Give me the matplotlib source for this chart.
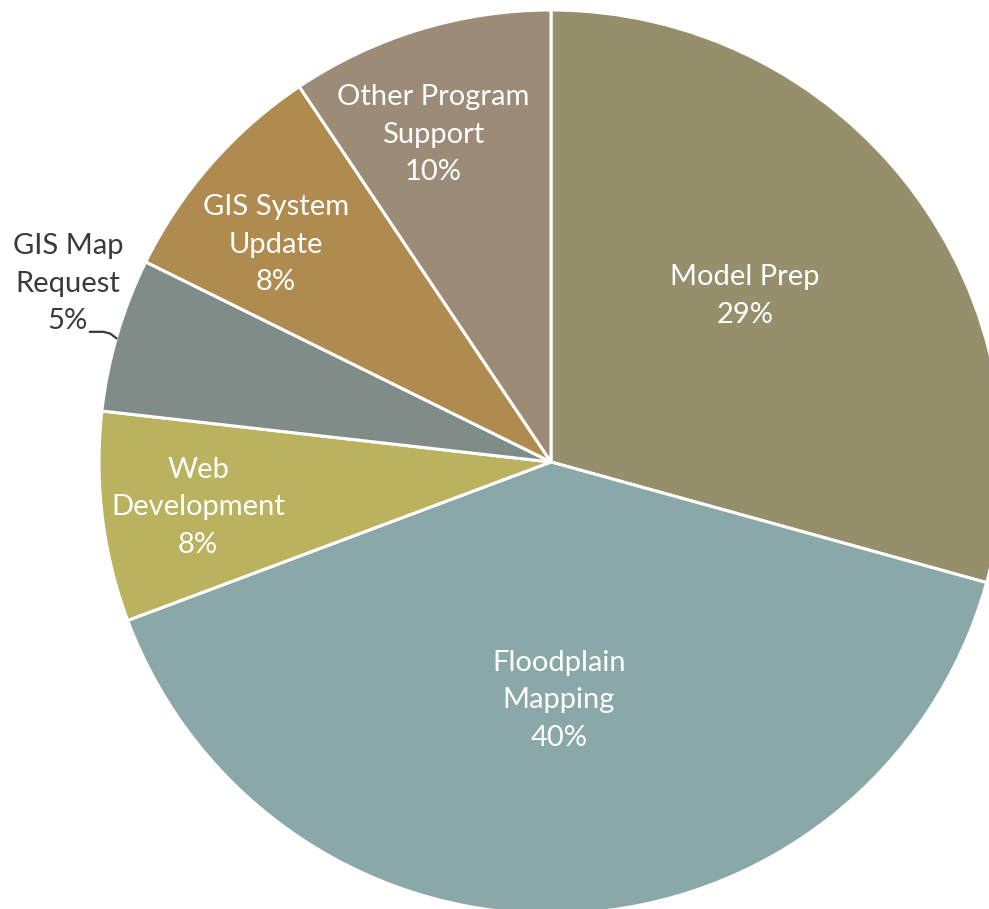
import numpy as np
import matplotlib.pyplot as plt

# slices, clockwise from 12 o'clock
labels = ['Model Prep', 'Floodplain\nMapping', 'Web\nDevelopment',
          'GIS Map\nRequest', 'GIS System\nUpdate', 'Other Program\nSupport']
values = [29.3, 40.0, 7.5, 5.5, 8.3, 9.4]
pct_labels = ['29%', '40%', '8%', '5%', '8%', '10%']
colors = ['#958F6B', '#8AA8A7', '#BAB25E', '#7F8C87', '#B08B50', '#9B8B77']

# label placement: distance from centre (fraction of radius), angle nudge (deg)
label_r = [0.565, 0.527, 0.787, None, 0.775, 0.77]
label_dt = [3.3, -0.6, 0.3, 0, 2.9, 2.9]

plt.rcParams['font.family'] = ['Lato', 'DejaVu Sans']

fig = plt.figure(figsize=(9.89, 9.09), dpi=100)
ax = fig.add_axes([0, 0, 1, 1])

wedges, _ = ax.pie(values, colors=colors, startangle=90, counterclock=False,
                   radius=1, wedgeprops=dict(edgecolor='white', linewidth=2.2))

for w, lab, pct, r, dt in zip(wedges, labels, pct_labels, label_r, label_dt):
    mid = np.deg2rad((w.theta1 + w.theta2) / 2 + dt)
    if r is None:
        # outside label with leader line
        ax.text(-1.069, 0.394, lab + '\n' + pct, ha='center', va='center',
                fontsize=21, color='#3a3a3a', linespacing=1.55)
        ey = 0.274
        ex = -np.sqrt(1 - ey ** 2)
        ax.plot([-1.020, -0.990, -0.975, ex], [0.288, 0.288, 0.284, ey],
                color='#3a3a3a', lw=1.6)
        continue
    ax.text(r * np.cos(mid), r * np.sin(mid), lab + '\n' + pct,
            ha='center', va='center', fontsize=21, color='white',
            linespacing=1.55)

ax.set_xlim(-551 / 452, 438 / 452)
ax.set_ylim(-447 / 452, 462 / 452)
ax.set_aspect('equal')
ax.axis('off')

fig.savefig('out.png', dpi=100)
